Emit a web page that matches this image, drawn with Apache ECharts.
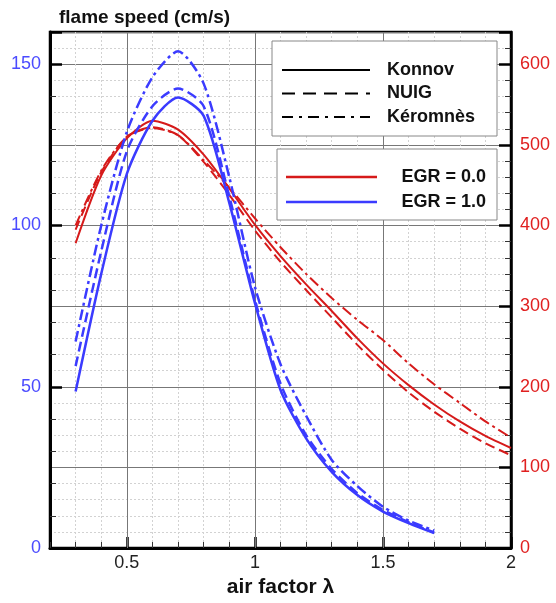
<!DOCTYPE html>
<html><head><meta charset="utf-8">
<script src="https://cdn.jsdelivr.net/npm/echarts@6/dist/echarts.min.js"></script>
<style>html,body{margin:0;padding:0;background:#fff}#c{width:556px;height:603px}</style>
</head><body><div id="c"></div>
<script>
// ---- data ----
const lambdaBlue = [0.3,0.4,0.5,0.6,0.7,0.8,0.9,1.0,1.1,1.2,1.3,1.4,1.5,1.6,1.7];
const blueKonnov   = [48.5,85,116,132.5,139.7,134,107,76,49,34,23.6,16.4,11.3,7.7,4.6];
const blueNUIG     = [56.4,92,123,137,142.5,137,109,77,51,35,24.5,17,11.8,8,4.8];
const blueKeromnes = [64,100,129,146,154,144,115,81,57,41,27.3,19.2,12.8,8.5,5.4];

const lambdaRed = [0.3,0.4,0.5,0.6,0.7,0.8,0.9,1.0,1.1,1.2,1.3,1.4,1.5,1.6,1.7,1.8,1.9,2.0];
const redKonnov   = [378,462,508,530,519,488,446,401,362,327,294,260,229,202,178,157,139,124];
const redNUIG     = [395,466,510,522,512,479,438,394,355,320,286,252,221,193,169,148,130,115];
const redKeromnes = [400,468,510,521,512,481,447,409,373,340,310,283,258,229,203,180,157,137];

const xTickLabels = [0.5,1,1.5,2];
const xMajorGrid = [0.5,1,1.5];
const leftTickLabels = [0,50,100,150];
const rightTickLabels = [0,100,200,300,400,500,600];

const legendStyles = ['Konnov','NUIG','Kéromnès'];
const legendEGR = ['EGR = 0.0','EGR = 1.0'];

// ---- styles ----
const BLUE = '#3b3bff', RED = '#d61a1a';
const dashes = {solid:'solid', dashed:[10,5], dashdot:[11,4,3,4]};
const FONT = '"Liberation Sans", Arial, sans-serif';

function pairs(xs, ys){ return xs.map((x,i)=>[x, ys[i]]); }
function mk(name, xs, ys, color, type, yIdx, width){
  return {name, type:'line', xAxisIndex:0, yAxisIndex:yIdx, data:pairs(xs,ys),
    showSymbol:false, symbol:'none', smooth:0.25, z:5,
    lineStyle:{color, width, type}};
}

const chart = echarts.init(document.getElementById('c'), null, {renderer:'canvas'});
const series = [
  mk('redKonnov', lambdaRed, redKonnov, RED, dashes.solid, 1, 2),
  mk('redNUIG', lambdaRed, redNUIG, RED, dashes.dashed, 1, 2),
  mk('redKeromnes', lambdaRed, redKeromnes, RED, dashes.dashdot, 1, 2),
  mk('blueKonnov', lambdaBlue, blueKonnov, BLUE, dashes.solid, 0, 2.5),
  mk('blueNUIG', lambdaBlue, blueNUIG, BLUE, dashes.dashed, 0, 2.5),
  mk('blueKeromnes', lambdaBlue, blueKeromnes, BLUE, dashes.dashdot, 0, 2.5)
];
series.push({type:'line', xAxisIndex:0, yAxisIndex:0, data:[], z:1, silent:true,
  markLine:{silent:true, symbol:['none','none'], label:{show:false},
    lineStyle:{color:'#777', width:1, type:'solid'}, z:1,
    data: xMajorGrid.map(v=>({xAxis:v}))}});

const legendGraphics = [
  {type:'rect', shape:{x:272, y:41, width:225, height:95}, style:{fill:'#fff', stroke:'#888', lineWidth:1}, z:100},
  {type:'rect', shape:{x:277, y:149, width:220, height:71}, style:{fill:'#fff', stroke:'#888', lineWidth:1}, z:100}
];
const lTypes = [dashes.solid, [13,8], [11,6,3,6]];
legendStyles.forEach((t,i)=>{
  const y = 70 + i*23.5;
  legendGraphics.push({type:'line', shape:{x1:282, y1:y, x2:370, y2:y}, style:{stroke:'#000', lineWidth:2, lineDash: lTypes[i]==='solid'?null:lTypes[i]}, z:101});
  legendGraphics.push({type:'text', x:387, y:y, style:{text:t, fill:'#111', font:'bold 18px '+FONT, textVerticalAlign:'middle'}, z:101});
});
legendEGR.forEach((t,i)=>{
  const y = 177 + i*25;
  legendGraphics.push({type:'line', shape:{x1:286, y1:y, x2:377, y2:y}, style:{stroke:i===0?RED:BLUE, lineWidth:2.5}, z:101});
  legendGraphics.push({type:'text', x:486, y:y, style:{text:t, fill:'#111', font:'bold 18px '+FONT, textAlign:'right', textVerticalAlign:'middle'}, z:101});
});

chart.setOption({
  animation:false,
  backgroundColor:'#fff',
  textStyle:{fontFamily:FONT},
  title:{text:'flame speed (cm/s)', left:54, top:3, textStyle:{fontSize:19, fontWeight:'bold', color:'#111', fontFamily:FONT}},
  grid:{left:50, right:45, top:32, bottom:55, show:true, borderColor:'#000', borderWidth:2.5, backgroundColor:'#fff', containLabel:false},
  xAxis:[
    {type:'value', min:0.2, max:2, interval:0.1, position:'bottom',
     axisLine:{show:true, onZero:false, lineStyle:{color:'#000', width:3}},
     axisTick:{show:true, inside:true, length:6, lineStyle:{color:'#333', width:1}},
     axisLabel:{show:false},
     splitLine:{show:true, lineStyle:{color:'#d2d2d2', width:1, type:[2,2]}}},
    {type:'value', min:0.2, max:2, position:'bottom',
     axisLine:{show:false},
     axisTick:{show:true, inside:true, length:11, customValues:xTickLabels, lineStyle:{color:'#000', width:2.5}},
     axisLabel:{show:true, customValues:xTickLabels, fontSize:18, color:'#222', margin:6, fontFamily:FONT,
       formatter:v=>String(v)},
     splitLine:{show:false},
     name:'air factor λ', nameLocation:'middle', nameGap:28,
     nameTextStyle:{fontSize:21, fontWeight:'bold', color:'#111', fontFamily:FONT}}
  ],
  yAxis:[
    {type:'value', min:0, max:160, interval:50, position:'left',
     axisLine:{show:true, onZero:false, lineStyle:{color:'#000', width:3}},
     axisTick:{show:true, inside:true, length:12, lineStyle:{color:'#000', width:2.5}},
     minorTick:{show:true, splitNumber:5, length:6, lineStyle:{color:'#333', width:1}},
     axisLabel:{color:'#4b4bff', fontSize:18, margin:9, fontFamily:FONT,
       formatter:v=>leftTickLabels.indexOf(v)>=0?String(v):''},
     splitLine:{show:false}},
    {type:'value', min:0, max:640, interval:100, position:'right',
     axisLine:{show:true, onZero:false, lineStyle:{color:'#000', width:2.5}},
     axisTick:{show:true, inside:true, length:12, lineStyle:{color:'#000', width:2.5}},
     minorTick:{show:true, splitNumber:5, length:6, lineStyle:{color:'#333', width:1}},
     axisLabel:{color:'#e02020', fontSize:18, margin:9, fontFamily:FONT,
       formatter:v=>rightTickLabels.indexOf(v)>=0?String(v):''},
     splitLine:{show:true, lineStyle:{color:'#777', width:1, type:'solid'}},
     minorSplitLine:{show:true, lineStyle:{color:'#d2d2d2', width:1, type:[2,2]}}}
  ],
  series,
  graphic: legendGraphics
});
</script></body></html>
